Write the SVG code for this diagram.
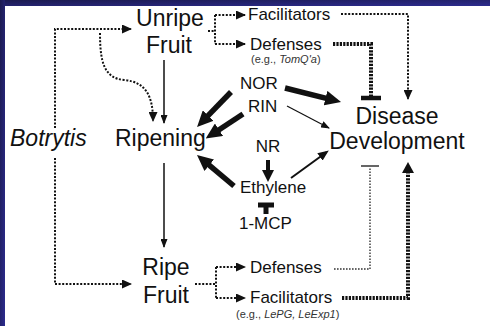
<svg xmlns="http://www.w3.org/2000/svg" width="490" height="326" viewBox="0 0 490 326">
  <defs>
    <linearGradient id="frame" x1="0" y1="0" x2="1" y2="1">
      <stop offset="0" stop-color="#1b1a4e"/>
      <stop offset="1" stop-color="#2c2b8e"/>
    </linearGradient>
    <!-- small filled head for dotted and thin links -->
    <marker id="tri" markerUnits="userSpaceOnUse" markerWidth="10" markerHeight="9" refX="9" refY="4.5" orient="auto">
      <path d="M0,0 L10,4.5 L0,9 z" fill="#111"/>
    </marker>
    <marker id="thin" markerUnits="userSpaceOnUse" markerWidth="9" markerHeight="7" refX="8" refY="3.5" orient="auto">
      <path d="M0,0 L9,3.5 L0,7 z" fill="#111"/>
    </marker>
    <marker id="mid" markerUnits="userSpaceOnUse" markerWidth="11" markerHeight="9" refX="8" refY="4.5" orient="auto">
      <path d="M0,0 L11,4.5 L0,9 z" fill="#111"/>
    </marker>
    <marker id="bold" markerUnits="userSpaceOnUse" markerWidth="16" markerHeight="15" refX="4" refY="7.5" orient="auto">
      <path d="M0,0 L16,7.5 L0,15 z" fill="#111"/>
    </marker>
    <marker id="boldS" markerUnits="userSpaceOnUse" markerWidth="12" markerHeight="12" refX="4" refY="6" orient="auto">
      <path d="M0,0 L12,6 L0,12 z" fill="#111"/>
    </marker>
  </defs>
  <style>
    text { font-family: "Liberation Sans", Arial, sans-serif; fill: #111; }
    .big { font-size: 23px; }
    .lab { font-size: 17px; }
    .ex { font-size: 11px; fill: #333; }
    .it { font-style: italic; }
    .mid { text-anchor: middle; }
    .dot { fill: none; stroke: #111; stroke-width: 2; stroke-dasharray: 2 1.6; }
    .dotB { fill: none; stroke: #111; stroke-width: 4; stroke-dasharray: 2.2 1.2; }
    .dotT { fill: none; stroke: #333; stroke-width: 1.4; stroke-dasharray: 1.6 1.4; }
    .solid { fill: none; stroke: #111; stroke-width: 1.5; }
    .heavy { fill: none; stroke: #111; stroke-width: 5.5; }
  </style>

  <!-- slide frame -->
  <rect x="0" y="0" width="490" height="326" fill="#fff"/>
  <rect x="0" y="0" width="490" height="6" fill="url(#frame)"/>
  <rect x="0" y="0" width="5" height="326" fill="url(#frame)"/>

  <g id="connectors">
    <!-- Botrytis to unripe and ripe fruit -->
    <path class="dot" d="M55,128 V29 H131" marker-end="url(#tri)"/>
    <path class="dot" d="M55,158 V284 H131" marker-end="url(#tri)"/>
    <path class="dot" d="M100,33 C100,62 104,78 124,80 C146,82 153,96 153,121" marker-end="url(#tri)"/>
    <!-- developmental progression -->
    <path class="solid" d="M164,60 V123" marker-end="url(#thin)"/>
    <path class="solid" d="M164,163 V247" marker-end="url(#thin)"/>
    <!-- unripe fruit branches -->
    <path class="dot" d="M208,31 H215"/>
    <path class="dot" d="M215,15 V44"/>
    <path class="dot" d="M215,15 H245" marker-end="url(#tri)"/>
    <path class="dot" d="M215,44 H245" marker-end="url(#tri)"/>
    <!-- ripe fruit branches -->
    <path class="dot" d="M195,284 H216"/>
    <path class="dot" d="M216,267 V298"/>
    <path class="dot" d="M216,267 H245" marker-end="url(#tri)"/>
    <path class="dot" d="M216,298 H245" marker-end="url(#tri)"/>
    <!-- unripe facilitators / defenses to disease -->
    <path class="dot" d="M341,14 H408 V99" marker-end="url(#tri)"/>
    <path class="dotB" d="M333,44 H371 V96"/>
    <path d="M361,98 H381" stroke="#111" stroke-width="4.5"/>
    <!-- ripe defenses / facilitators to development -->
    <path class="dotT" d="M334,269 H370 V167"/>
    <path d="M361,166 H379" stroke="#333" stroke-width="1.5"/>
    <path class="dotB" d="M342,298 H408 V172"/>
    <path d="M402,173 L408,162 L414,173 z" fill="#111"/>
    <!-- regulators -->
    <path class="heavy" d="M231,92 L205.4,118.4" marker-end="url(#bold)"/>
    <path class="heavy" d="M243,114 L215.7,132" marker-end="url(#bold)"/>
    <path class="heavy" d="M234,186 L206.2,162.7" marker-end="url(#bold)"/>
    <path class="heavy" d="M285,88 L329.4,99.1" marker-end="url(#bold)"/>
    <path d="M287,106 L329,128" stroke="#111" stroke-width="1.2" fill="none" marker-end="url(#thin)"/>
    <path d="M268,160 V174" stroke="#111" stroke-width="4" fill="none" marker-end="url(#boldS)"/>
    <path d="M291,178 L326.4,152.2" stroke="#111" stroke-width="2" fill="none" marker-end="url(#mid)"/>
    <!-- 1-MCP inhibits ethylene -->
    <path d="M266,214 V205" stroke="#111" stroke-width="5"/>
    <path d="M258,205 H274" stroke="#111" stroke-width="5"/>
  </g>

  <g id="botrytis"><text class="big it" x="10" y="146">Botrytis</text></g>
  <g id="unripe-fruit">
    <text class="big mid" x="170" y="26">Unripe</text>
    <text class="big mid" x="169" y="53">Fruit</text>
  </g>
  <g id="ripening"><text class="big" x="115" y="146">Ripening</text></g>
  <g id="ripe-fruit">
    <text class="big mid" x="166" y="275">Ripe</text>
    <text class="big mid" x="166" y="303">Fruit</text>
  </g>
  <g id="disease-development">
    <text class="big mid" x="397" y="124">Disease</text>
    <text class="big mid" x="397" y="149">Development</text>
  </g>
  <g id="facilitators-unripe"><text class="lab" x="248" y="20">Facilitators</text></g>
  <g id="defenses-unripe">
    <text class="lab" x="250" y="50">Defenses</text>
    <text class="ex" x="251" y="63">(e.g., <tspan class="it">TomQ'a</tspan>)</text>
  </g>
  <g id="nor"><text class="lab" x="240" y="89">NOR</text></g>
  <g id="rin"><text class="lab" x="248" y="112">RIN</text></g>
  <g id="nr"><text class="lab mid" x="268" y="152">NR</text></g>
  <g id="ethylene"><text class="lab" x="240" y="193">Ethylene</text></g>
  <g id="mcp"><text class="lab" x="239" y="229">1-MCP</text></g>
  <g id="defenses-ripe"><text class="lab" x="250" y="273">Defenses</text></g>
  <g id="facilitators-ripe">
    <text class="lab" x="250" y="303">Facilitators</text>
    <text class="ex" x="236" y="318">(e.g., <tspan class="it">LePG, LeExp1</tspan>)</text>
  </g>
</svg>
